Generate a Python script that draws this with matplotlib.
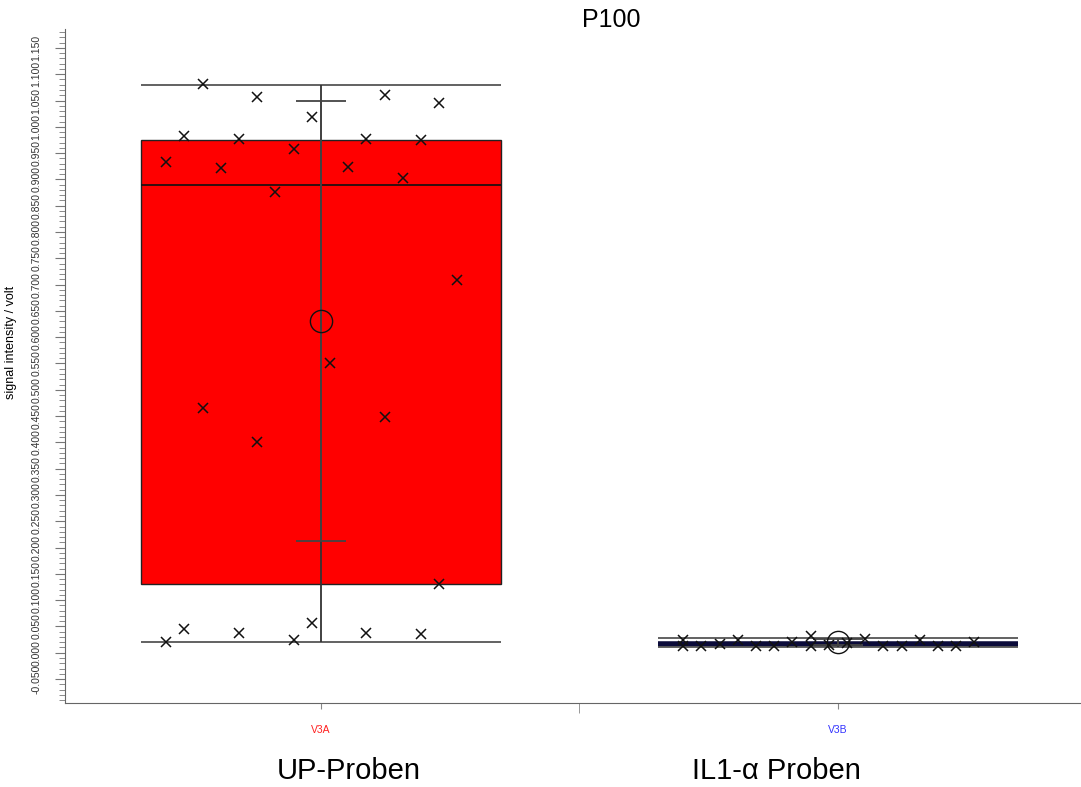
import numpy as np
import matplotlib
matplotlib.use('Agg')
import matplotlib.pyplot as plt
from matplotlib.ticker import MultipleLocator, FormatStrFormatter

plt.rcParams['font.family'] = ['Liberation Sans', 'DejaVu Sans']

# categories and sample values (signal intensity / volt)
groups = ['V3A', 'V3B']
group_colors = ['#ff2020', '#3333ff']
group_names = ['UP-Proben', 'IL1-\u03b1 Proben']

# jitter column of each point, and its value
v3a_cols = [0, 0, 1, 1, 2, 2, 3, 4, 4, 5, 5, 6, 7, 7, 8, 8,
            9, 10, 11, 11, 12, 12, 13, 14, 14, 15, 15, 16]
v3a_vals = [0.933, 0.020, 0.982, 0.046, 1.081, 0.465, 0.921, 0.977, 0.038, 1.056, 0.401, 0.876, 0.958, 0.024, 1.018, 0.057,
            0.551, 0.923, 0.977, 0.038, 1.060, 0.448, 0.902, 0.975, 0.036, 1.045, 0.131, 0.709]
v3b_cols = [0, 0, 1, 2, 3, 4, 5, 6, 7, 7, 8, 9, 10, 11, 12, 13, 14, 15, 16]
v3b_vals = [0.024, 0.013, 0.012, 0.017, 0.024, 0.012, 0.012, 0.021, 0.031, 0.013,
            0.015, 0.018, 0.026, 0.012, 0.012, 0.024, 0.012, 0.012, 0.021]

# box statistics
q1 = [0.131, 0.013]
q3 = [0.975, 0.018]
medians = [0.889, 0.016]
whisk_lo = [0.020, 0.011]
whisk_hi = [1.079, 0.0285]
means = [0.631, 0.020]
sds = [0.418, 0.006]

fig = plt.figure(figsize=(10.81, 7.87), dpi=100)
ax = fig.add_axes([65 / 1081, 1 - 703 / 787, 1 - 65 / 1081, (703 - 29) / 787])

box_half = 0.348
col_step = 0.0352
cap_half = 0.049

all_cols = [v3a_cols, v3b_cols]
all_vals = [v3a_vals, v3b_vals]

for i in range(2):
    xc = i + 1
    if i == 0:
        ax.bar(xc, q3[i] - q1[i], bottom=q1[i], width=2 * box_half, color='#ff0000',
               edgecolor='#222222', linewidth=1.0, zorder=1)
        ax.hlines(medians[i], xc - box_half, xc + box_half, color='#111111', lw=1.2, zorder=2)
    else:
        ax.hlines(medians[i], xc - box_half, xc + box_half, color='#0b0b3a', lw=4.0, zorder=2)
    # whiskers: min / max lines and vertical line
    ax.hlines([whisk_lo[i], whisk_hi[i]], xc - box_half, xc + box_half, color='#555555', lw=1.3, zorder=2)
    ax.vlines(xc, whisk_lo[i], whisk_hi[i], color='#333333', lw=1.3, zorder=2)
    # mean +- sd
    ax.errorbar(xc, means[i], yerr=sds[i], fmt='none', ecolor='#444444', elinewidth=1.2,
                capsize=0, zorder=3)
    ax.hlines([means[i] - sds[i], means[i] + sds[i]], xc - cap_half, xc + cap_half,
              color='#444444', lw=1.3, zorder=3)
    # points
    xs = xc + (np.array(all_cols[i]) - 8.5) * col_step
    ax.plot(xs, all_vals[i], linestyle='none', marker='x', color='#111111',
            markersize=7, markeredgewidth=1.1, zorder=4)
    # mean circle
    ax.plot(xc, means[i], linestyle='none', marker='o', markerfacecolor='none',
            markeredgecolor='#111111', markersize=16, markeredgewidth=1.0, zorder=5)

ax.set_xlim(0.505, 2.47)
ax.set_ylim(-0.0956, 1.186)

ax.spines['top'].set_visible(False)
ax.spines['right'].set_visible(False)
ax.spines['left'].set_color('#666666')
ax.spines['bottom'].set_color('#666666')

ax.yaxis.set_major_locator(MultipleLocator(0.05))
ax.yaxis.set_minor_locator(MultipleLocator(0.01))
ax.yaxis.set_major_formatter(FormatStrFormatter('%.3f'))
ax.tick_params(axis='y', which='major', length=7, color='#777777', labelsize=7.5, pad=10)
ax.tick_params(axis='y', which='minor', length=4, color='#777777')
for lab in ax.get_yticklabels():
    lab.set_rotation(90)
    lab.set_verticalalignment('center')
    lab.set_color('#333333')
ax.set_ylim(-0.0956, 1.186)

ax.set_xticks([1, 2])
ax.set_xticklabels(groups, fontsize=7.5)
for lab, c in zip(ax.get_xticklabels(), group_colors):
    lab.set_color(c)
ax.set_xticks([1.5], minor=True)
ax.tick_params(axis='x', which='major', length=4, color='#888888', pad=12)
ax.tick_params(axis='x', which='minor', length=7, color='#888888')

ax.set_ylabel('signal intensity / volt', fontsize=9)
ax.yaxis.set_label_coords(-48 / 1016, (703 - 342) / 674)

fig.text(611 / 1081, 1 - 20 / 787, 'P100', fontsize=18, ha='center', va='center')
fig.text(349 / 1081, 1 - 771 / 787, group_names[0], fontsize=21, ha='center', va='center')
fig.text(776 / 1081, 1 - 771 / 787, group_names[1], fontsize=21, ha='center', va='center')

fig.savefig('out.png', dpi=100)
